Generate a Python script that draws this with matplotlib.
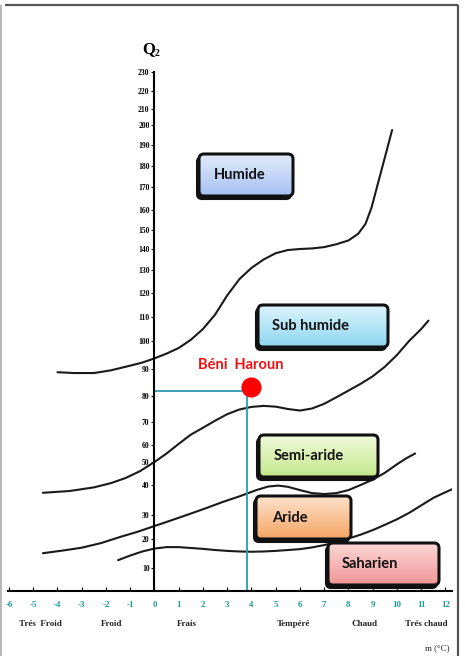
import numpy as np
import matplotlib.pyplot as plt
from matplotlib.patches import FancyBboxPatch
from matplotlib.colors import to_rgb

# Emberger climagram : Q2 axis is not linear, ticks and their height (px) above the m axis
q_ticks = [0, 10, 20, 30, 40, 50, 60, 70, 80, 90, 100, 110, 120, 130, 140,
           150, 160, 170, 180, 190, 200, 210, 220, 230]
q_height = [0, 23, 52, 76, 106, 129, 146, 169, 195, 222, 250, 274, 298, 321,
            342, 361, 381, 404, 425, 446, 466, 482, 500, 519]

m_ticks = list(range(-6, 13))
m_labels = [str(v) for v in m_ticks]

# limits between bioclimatic stages (m in degC, Q2)
humide_m = [-4.0, -3.3, -2.5, -1.8, -1.0, -0.5, 0.0, 0.5, 1.0, 1.5, 2.0, 2.5,
            3.0, 3.5, 4.0, 4.5, 5.0, 5.5, 6.0, 6.5, 7.0, 7.5, 8.0, 8.4, 8.7,
            8.95, 9.2, 9.5, 9.8]
humide_q = [88.8, 88.5, 88.5, 89.5, 91.2, 92.3, 93.8, 95.5, 97.5, 100.5, 105,
            111, 119, 126, 131, 135, 138, 139.5, 140, 140.3, 141, 142.5, 144.5,
            148, 153, 161, 171, 184, 197.5]

subhum_m = [-4.6, -3.5, -2.5, -1.8, -1.2, -0.6, 0.0, 0.5, 1.0, 1.5, 2.0, 2.5,
            3.0, 3.5, 4.0, 4.5, 5.0, 5.5, 6.0, 6.5, 7.0, 7.5, 8.0, 8.5, 9.0,
            9.5, 10.0, 10.5, 11.0, 11.3]
subhum_q = [37.4, 38.0, 39.2, 40.8, 43.0, 46.0, 50.0, 55.0, 60.5, 64.5, 67.5,
            70.5, 73.0, 74.8, 75.8, 76.2, 75.9, 75.0, 74.4, 75.2, 77.0, 79.5,
            82.0, 84.5, 87.3, 90.8, 95.0, 100.0, 105.0, 108.5]

semiar_m = [-4.6, -3.8, -3.0, -2.2, -1.4, -0.7, 0.0, 0.7, 1.4, 2.1, 2.8, 3.5,
            4.2, 4.7, 5.1, 5.5, 6.0, 6.5, 7.0, 7.5, 8.0, 8.5, 9.0, 9.5, 10.0,
            10.4, 10.75]
semiar_q = [15.1, 16.0, 17.0, 18.6, 20.9, 23.0, 25.4, 27.8, 30.2, 32.2, 34.3,
            36.2, 38.3, 39.5, 39.8, 39.4, 38.3, 37.3, 37.0, 37.3, 38.3, 40.0,
            42.3, 45.3, 49.0, 52.3, 55.0]

aride_m = [-1.5, -1.0, -0.5, 0.0, 0.5, 1.0, 1.5, 2.0, 2.5, 3.0, 3.5, 4.0, 4.5,
           5.0, 5.5, 6.0, 6.5, 7.0, 7.5, 8.0, 8.5, 9.0, 9.5, 10.0, 10.5, 11.0,
           11.5, 12.0, 12.28]
aride_q = [12.7, 14.3, 15.7, 16.7, 17.2, 17.2, 16.9, 16.6, 16.2, 15.9, 15.7,
           15.6, 15.7, 15.9, 16.2, 16.5, 17.1, 17.9, 18.9, 20.2, 21.8, 23.7,
           25.9, 28.2, 30.7, 33.2, 35.7, 37.6, 38.6]

# station
station = "Béni  Haroun"
station_m = 3.97
station_q = 83.3
guide_m = 3.81
guide_q = 81.9

stages = ["Humide", "Sub humide", "Semi-aride", "Aride", "Saharien"]
temp_classes = ["Trés  Froid", "Froid", "Frais", "Tempéré", "Chaud", "Trés chaud"]


def fwd(q):
    return np.interp(q, q_ticks, q_height)


def inv(h):
    return np.interp(h, q_height, q_ticks)


W, H = 465, 656
fig = plt.figure(figsize=(W / 100, H / 100), dpi=100)

ax = fig.add_axes([8 / W, 65 / H, 444 / W, 519 / H])
ax.set_yscale('function', functions=(fwd, inv))
ax.set_xlim(-6.04, 12.27)
ax.set_ylim(0, 230)

for mm, qq in [(humide_m, humide_q), (subhum_m, subhum_q),
               (semiar_m, semiar_q), (aride_m, aride_q)]:
    ax.plot(mm, qq, color='#1a1a1a', lw=1.5, solid_capstyle='round',
            solid_joinstyle='round')

teal = '#2b9db3'
ax.plot([0, guide_m], [guide_q, guide_q], color=teal, lw=1.3)
ax.plot([guide_m, guide_m], [guide_q, 0], color=teal, lw=1.3)
ax.plot([station_m], [station_q], 'o', color='#ff0000', ms=13.5, zorder=5)
ax.text(station_m - 0.4, 91.5, station, color='#ee1111', fontsize=10.5,
        fontweight='bold', family='Lato', ha='center', va='center')

for s in ['top', 'right']:
    ax.spines[s].set_visible(False)
ax.spines['left'].set_position(('data', 0))
ax.spines['left'].set_linewidth(1.5)
ax.spines['bottom'].set_linewidth(1.5)
ax.set_facecolor('none')

ax.set_yticks(q_ticks[1:])
ax.set_yticklabels([str(v) for v in q_ticks[1:]], family='Liberation Serif',
                   fontweight='bold', fontsize=5.5)
ax.tick_params(axis='y', direction='out', length=2.5, width=0.8, pad=1)
ax.set_xticks(m_ticks)
ax.set_xticklabels(m_labels, family='Liberation Serif', fontweight='bold',
                   fontsize=6.5, color='#1f9a9a')
ax.tick_params(axis='x', direction='in', length=3, width=0.8, pad=7)

# overlay in pixel coordinates for boxes, titles and frame
ov = fig.add_axes([0, 0, 1, 1], zorder=3)
ov.set_xlim(0, W)
ov.set_ylim(H, 0)
ov.axis('off')
ov.patch.set_alpha(0)

ov.text(142, 49, "Q", family='Liberation Serif', fontweight='bold',
        fontsize=12, va='center', ha='left')
ov.text(155, 53, "2", family='Liberation Serif', fontweight='bold',
        fontsize=7, va='center', ha='left')

class_x = [40, 112, 187, 293, 364, 426]
for lab, x in zip(temp_classes, class_x):
    ov.text(x, 624, lab, family='Liberation Serif', fontweight='bold',
            fontsize=6.5, ha='center', va='center', color='#222222')
ov.text(437, 648, "m (°C)", family='Liberation Serif', fontsize=6.5,
        ha='center', va='center', color='#222222')

boxes = [
    (199, 154, 293, 196, '#e2ebfc', '#a6c0f2', 214),
    (258, 305, 388, 347, '#dcf4fc', '#8dd6f0', 272),
    (259, 435, 378, 477, '#f1fadc', '#c3e78a', 274),
    (256, 496, 351, 539, '#fee3cd', '#f4a463', 272),
    (328, 543, 439, 585, '#fdd6d6', '#f09696', 342),
]
for lab, (x0, y0, x1, y1, ctop, cbot, tx) in zip(stages, boxes):
    shadow = FancyBboxPatch((x0 - 2, y0 + 3), x1 - x0, y1 - y0,
                            boxstyle='round,pad=0,rounding_size=5',
                            fc='#111111', ec='#111111', lw=1.5)
    ov.add_patch(shadow)
    box = FancyBboxPatch((x0, y0), x1 - x0, y1 - y0,
                         boxstyle='round,pad=0,rounding_size=5',
                         fc='none', ec='#111111', lw=2.2, zorder=4)
    ov.add_patch(box)
    t = np.linspace(0, 1, 64)[:, None, None]
    grad = (1 - t) * np.array(to_rgb(ctop)) + t * np.array(to_rgb(cbot))
    im = ov.imshow(grad, extent=(x0, x1, y1, y0), origin='upper',
                   aspect='auto', zorder=3.5, interpolation='bilinear')
    im.set_clip_path(box)
    ov.text(tx, (y0 + y1) / 2, lab, family='Lato', fontweight='bold',
            fontsize=10.5, ha='left', va='center', color='#111111', zorder=5)

ov.plot([5, 458], [5, 5], color='#555555', lw=1.6, solid_capstyle='butt')
ov.plot([458, 458], [5, H], color='#555555', lw=1.6, solid_capstyle='butt')
ov.plot([1.2, 1.2], [5, H], color='#aaaaaa', lw=1.2, solid_capstyle='butt')
ov.set_xlim(0, W)
ov.set_ylim(H, 0)

fig.savefig('out.png', dpi=100)
